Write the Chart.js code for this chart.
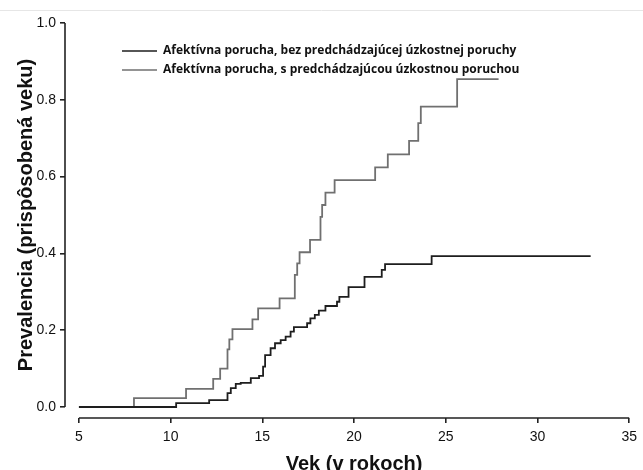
<!DOCTYPE html>
<html>
<head>
<meta charset="utf-8">
<script src="https://cdn.jsdelivr.net/npm/chart.js@4"></script>
<style>
  html, body { margin: 0; padding: 0; background: #fff; }
  #wrap { width: 643px; height: 470px; position: relative; }
</style>
</head>
<body>
<div id="wrap"><canvas id="chart"></canvas></div>
<script>
// --- data (age in years, adjusted prevalence) ---
const xTicks = [5, 10, 15, 20, 25, 30, 35];
const yTicks = [0, 0.2, 0.4, 0.6, 0.8, 1.0];

const legendLabels = [
    'Afektívna porucha, bez predchádzajúcej úzkostnej poruchy',
    'Afektívna porucha, s predchádzajúcou úzkostnou poruchou'
];

// without prior anxiety disorder (dark curve)
const ageWithout = [5, 10.3, 12.1, 13.1, 13.28, 13.55, 13.82, 14.37, 14.82, 15.04, 15.15, 15.45, 15.69, 16.0, 16.27, 16.54, 16.72, 17.44, 17.62, 17.86, 18.08, 18.44, 19.07, 19.2, 19.7, 20.57, 21.51, 21.69, 24.23, 32.9];
const prevWithout = [0, 0.01, 0.018, 0.036, 0.049, 0.06, 0.063, 0.075, 0.081, 0.105, 0.135, 0.153, 0.166, 0.174, 0.183, 0.196, 0.208, 0.218, 0.231, 0.24, 0.251, 0.263, 0.274, 0.287, 0.312, 0.339, 0.357, 0.372, 0.393, 0.393];

// with prior anxiety disorder (gray curve)
const ageWith = [5, 8.0, 10.84, 12.32, 12.7, 13.1, 13.2, 13.37, 14.46, 14.77, 15.94, 16.77, 16.9, 17.03, 17.6, 18.17, 18.26, 18.44, 18.94, 21.15, 21.84, 23.0, 23.5, 23.64, 25.62, 27.88];
const prevWith = [0, 0.023, 0.047, 0.073, 0.1, 0.15, 0.176, 0.203, 0.228, 0.257, 0.283, 0.344, 0.374, 0.403, 0.435, 0.495, 0.526, 0.558, 0.591, 0.624, 0.658, 0.693, 0.739, 0.782, 0.854, 0.854];

const DARK = '#1e1e1e';
const GRAY = '#707070';

const toPoints = (xs, ys) => xs.map((x, i) => ({ x: x, y: ys[i] }));

// axis lines only between first and last tick (R style), titles and legend
const decor = {
    id: 'decor',
    afterDraw(chart) {
        const ctx = chart.ctx;
        const xs = chart.scales.x, ys = chart.scales.y;
        const area = chart.chartArea;
        ctx.save();

        // faint page line at top
        ctx.strokeStyle = '#e6e6e6';
        ctx.lineWidth = 1;
        ctx.beginPath();
        ctx.moveTo(0, 10.5);
        ctx.lineTo(643, 10.5);
        ctx.stroke();

        ctx.strokeStyle = '#222';
        ctx.lineWidth = 1.6;
        ctx.beginPath();
        ctx.moveTo(xs.getPixelForValue(xTicks[0]), area.bottom);
        ctx.lineTo(xs.getPixelForValue(xTicks[xTicks.length - 1]), area.bottom);
        ctx.moveTo(area.left, ys.getPixelForValue(yTicks[0]));
        ctx.lineTo(area.left, ys.getPixelForValue(yTicks[yTicks.length - 1]));
        ctx.stroke();

        // axis titles
        ctx.fillStyle = '#111';
        ctx.font = 'bold 20px "Liberation Sans", Arial, sans-serif';
        ctx.textAlign = 'center';
        ctx.textBaseline = 'middle';
        const midX = (xs.getPixelForValue(5) + xs.getPixelForValue(35)) / 2;
        ctx.fillText('Vek (v rokoch)', midX, 464);

        ctx.save();
        ctx.translate(26, (ys.getPixelForValue(0) + ys.getPixelForValue(1)) / 2);
        ctx.rotate(-Math.PI / 2);
        ctx.fillText('Prevalencia (prispôsobená veku)', 0, 0);
        ctx.restore();

        // legend
        const colors = [DARK, GRAY];
        ctx.font = 'bold 12px "Open Sans", sans-serif';
        ctx.textAlign = 'left';
        legendLabels.forEach((label, i) => {
            const y = 51 + i * 19;
            ctx.strokeStyle = colors[i];
            ctx.lineWidth = 1.6;
            ctx.beginPath();
            ctx.moveTo(122, y);
            ctx.lineTo(157, y);
            ctx.stroke();
            ctx.fillStyle = '#111';
            ctx.fillText(label, 163, y);
        });
        ctx.restore();
    }
};

new Chart(document.getElementById('chart'), {
    type: 'line',
    data: {
        datasets: [
            {
                label: legendLabels[0],
                data: toPoints(ageWithout, prevWithout),
                borderColor: DARK,
                borderWidth: 1.8,
                stepped: 'before',
                pointRadius: 0,
                fill: false
            },
            {
                label: legendLabels[1],
                data: toPoints(ageWith, prevWith),
                borderColor: GRAY,
                borderWidth: 1.8,
                stepped: 'before',
                pointRadius: 0,
                fill: false
            }
        ]
    },
    options: {
        responsive: true,
        maintainAspectRatio: false,
        animation: false,
        layout: { padding: { top: 23, right: 3, left: 0, bottom: 0 } },
        plugins: {
            legend: { display: false },
            tooltip: { enabled: false }
        },
        scales: {
            x: {
                type: 'linear',
                min: 4.24,
                max: 35.43,
                afterBuildTicks: s => { s.ticks = xTicks.map(v => ({ value: v })); },
                afterFit: s => { s.height = 52; },
                border: { display: false },
                grid: { drawOnChartArea: false, drawTicks: true, tickLength: 5, color: '#222', lineWidth: 1.6 },
                ticks: {
                    color: '#111',
                    padding: 6,
                    maxRotation: 0,
                    font: { family: '"Liberation Sans", Arial, sans-serif', size: 14 }
                }
            },
            y: {
                type: 'linear',
                min: -0.0287,
                max: 1.0,
                afterBuildTicks: s => { s.ticks = yTicks.map(v => ({ value: v })); },
                afterFit: s => { s.width = 65; },
                border: { display: false },
                grid: { drawOnChartArea: false, drawTicks: true, tickLength: 5, color: '#222', lineWidth: 1.6 },
                ticks: {
                    color: '#111',
                    padding: 4,
                    callback: v => v.toFixed(1),
                    font: { family: '"Liberation Sans", Arial, sans-serif', size: 14 }
                }
            }
        }
    },
    plugins: [decor]
});
</script>
</body>
</html>
